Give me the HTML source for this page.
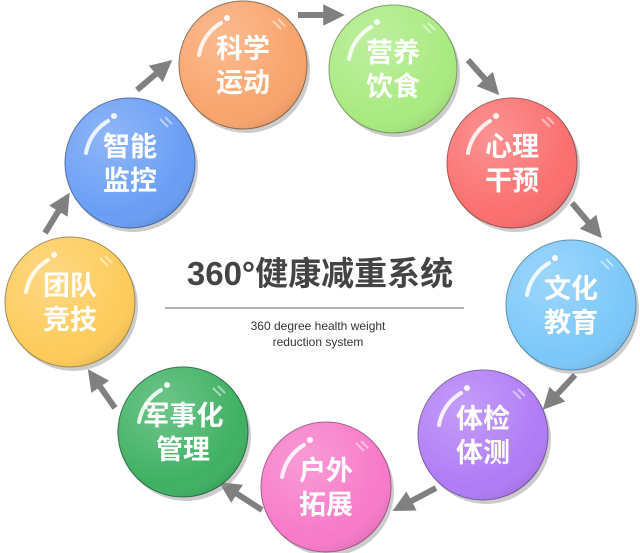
<!DOCTYPE html>
<html><head><meta charset="utf-8"><style>
html,body{margin:0;padding:0;background:#fff;}
svg{display:block;}
.t{font-family:"Liberation Sans","Noto Sans CJK SC",sans-serif;font-weight:bold;fill:#fff;font-size:27px;text-anchor:middle;}
</style></head><body>
<svg width="640" height="553" viewBox="0 0 640 553" xmlns="http://www.w3.org/2000/svg">
<defs>
<radialGradient id="hl" cx="0.35" cy="0.3" r="0.75"><stop offset="0" stop-color="#fff" stop-opacity="0.25"/><stop offset="0.8" stop-color="#fff" stop-opacity="0"/><stop offset="1" stop-color="#000" stop-opacity="0.08"/></radialGradient>
<marker id="ah" viewBox="0 0 10 10" refX="5" refY="5" markerWidth="3.6" markerHeight="3.6" orient="auto"><path d="M0,0 L10,5 L0,10 z" fill="#808080"/></marker>
<g id="shine"><path d="M-44,-10 A46,46 0 0 1 -22,-42" fill="none" stroke="#fff" stroke-width="4" stroke-linecap="round" opacity="0.85"/><circle cx="-16" cy="-47" r="3" fill="#fff" opacity="0.9"/><path d="M30,-44 L38,-36 M35,-46 L42,-39" stroke="#fff" stroke-width="2" opacity="0.5"/></g>
</defs>
<g stroke="#808080" stroke-width="6" fill="none" marker-end="url(#ah)">
<line x1="298" y1="15" x2="334" y2="15"/>
<line x1="468" y1="60" x2="492" y2="87"/>
<line x1="572" y1="203" x2="595" y2="230"/>
<line x1="575" y1="375" x2="550" y2="402"/>
<line x1="436" y1="488" x2="402" y2="506"/>
<line x1="262" y1="510" x2="228" y2="488"/>
<line x1="115" y1="408" x2="94" y2="378"/>
<line x1="45" y1="233" x2="64" y2="202"/>
<line x1="137" y1="90" x2="164" y2="67"/>
</g>
<g id="circles">
<g transform="translate(243,65)"><circle cx="3" cy="4" r="64" fill="#999" opacity="0.5"/><circle r="64" fill="#f9a46c" stroke="#8a6a50" stroke-width="1"/><circle r="64" fill="url(#hl)"/><use href="#shine"/><text class="t" y="-7">科学</text><text class="t" y="27">运动</text></g>
<g transform="translate(393,69)"><circle cx="3" cy="4" r="64" fill="#999" opacity="0.5"/><circle r="64" fill="#a9ea80" stroke="#7a9a60" stroke-width="1"/><circle r="64" fill="url(#hl)"/><use href="#shine"/><text class="t" y="-7">营养</text><text class="t" y="27">饮食</text></g>
<g transform="translate(512,163)"><circle cx="3" cy="4" r="65" fill="#999" opacity="0.5"/><circle r="65" fill="#fb6f6f" stroke="#9a5050" stroke-width="1"/><circle r="65" fill="url(#hl)"/><use href="#shine"/><text class="t" y="-7">心理</text><text class="t" y="27">干预</text></g>
<g transform="translate(130,163)"><circle cx="3" cy="4" r="65" fill="#999" opacity="0.5"/><circle r="65" fill="#6a9ef5" stroke="#4a6aa0" stroke-width="1"/><circle r="65" fill="url(#hl)"/><use href="#shine"/><text class="t" y="-7">智能</text><text class="t" y="27">监控</text></g>
<g transform="translate(70,302)"><circle cx="3" cy="4" r="65" fill="#999" opacity="0.5"/><circle r="65" fill="#fdcb5a" stroke="#a08850" stroke-width="1"/><circle r="65" fill="url(#hl)"/><use href="#shine"/><text class="t" y="-7">团队</text><text class="t" y="27">竞技</text></g>
<g transform="translate(571,305)"><circle cx="3" cy="4" r="65" fill="#999" opacity="0.5"/><circle r="65" fill="#7cc8fa" stroke="#5a8aa8" stroke-width="1"/><circle r="65" fill="url(#hl)"/><use href="#shine"/><text class="t" y="-7">文化</text><text class="t" y="27">教育</text></g>
<g transform="translate(483,435)"><circle cx="3" cy="4" r="65" fill="#999" opacity="0.5"/><circle r="65" fill="#b07cf6" stroke="#7a5aa0" stroke-width="1"/><circle r="65" fill="url(#hl)"/><use href="#shine"/><text class="t" y="-7">体检</text><text class="t" y="27">体测</text></g>
<g transform="translate(326,487)"><circle cx="3" cy="4" r="65" fill="#999" opacity="0.5"/><circle r="65" fill="#f77ac8" stroke="#a05a88" stroke-width="1"/><circle r="65" fill="url(#hl)"/><use href="#shine"/><text class="t" y="-7">户外</text><text class="t" y="27">拓展</text></g>
<g transform="translate(183,432)"><circle cx="3" cy="4" r="65" fill="#999" opacity="0.5"/><circle r="65" fill="#3fb163" stroke="#2a6a40" stroke-width="1"/><circle r="65" fill="url(#hl)"/><use href="#shine"/><text class="t" y="-7">军事化</text><text class="t" y="27">管理</text></g>
</g>
<text x="320" y="285" text-anchor="middle" font-family="Liberation Sans,'Noto Sans CJK SC',sans-serif" font-weight="bold" font-size="33" fill="#444">360°健康减重系统</text>
<line x1="165" y1="308" x2="464" y2="308" stroke="#666" stroke-width="1"/>
<text x="318" y="330" text-anchor="middle" font-family="Liberation Sans,sans-serif" font-size="12" fill="#333">360 degree health weight</text>
<text x="318" y="346" text-anchor="middle" font-family="Liberation Sans,sans-serif" font-size="12" fill="#333">reduction system</text>
</svg>
</body></html>
